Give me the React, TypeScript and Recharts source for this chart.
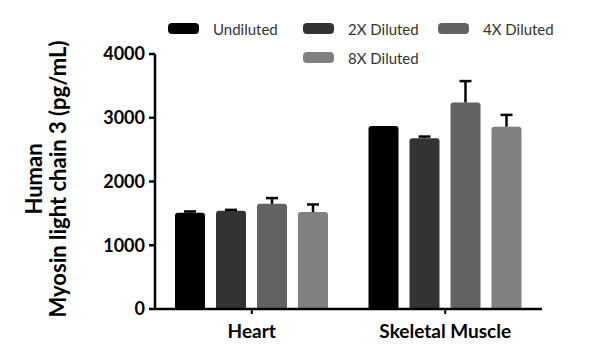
import { BarChart, Bar, XAxis, YAxis, Rectangle } from "recharts";

const CATEGORIES = ["Heart", "Skeletal Muscle"];
const SERIES = ["Undiluted", "2X Diluted", "4X Diluted", "8X Diluted"];
const COLORS = ["#000000", "#333333", "#636363", "#808080"];

// means and SD (upper error only), one entry per category
const UNDILUTED = [1510, 2870];
const UNDILUTED_ERR = [20, 0];
const DIL_2X = [1540, 2680];
const DIL_2X_ERR = [15, 25];
const DIL_4X = [1650, 3240];
const DIL_4X_ERR = [90, 335];
const DIL_8X = [1520, 2860];
const DIL_8X_ERR = [120, 185];

const Y_TICKS = [0, 1000, 2000, 3000, 4000];

const VALUES = [UNDILUTED, DIL_2X, DIL_4X, DIL_8X];
const ERRORS = [UNDILUTED_ERR, DIL_2X_ERR, DIL_4X_ERR, DIL_8X_ERR];

const data = CATEGORIES.map((name, i) => {
  const row: Record<string, string | number> = { name };
  SERIES.forEach((s, k) => {
    row[`v${k}`] = VALUES[k][i];
    row[`e${k}`] = ERRORS[k][i];
  });
  return row;
});

const FONT = "Lato, 'DejaVu Sans', sans-serif";

// bar with a one-sided (upward) error bar, scaled from the bar's own pixel height
function makeShape(k: number) {
  return (props: any) => {
    const { x, y, width, height, fill, payload } = props;
    const value = payload[`v${k}`];
    const err = payload[`e${k}`];
    const errPx = value ? (err * height) / value : 0;
    const cx = x + width / 2;
    return (
      <g>
        <Rectangle x={x} y={y} width={width} height={height} fill={fill} radius={[3, 3, 0, 0]} />
        {errPx > 0.5 && (
          <g stroke="#000" strokeWidth={2.5}>
            <line x1={cx} x2={cx} y1={y} y2={y - errPx} />
            <line x1={cx - 6} x2={cx + 6} y1={y - errPx} y2={y - errPx} />
          </g>
        )}
      </g>
    );
  };
}

function YTitle() {
  const cy = 179;
  return (
    <g fontFamily={FONT} fontWeight={700} fontSize={22} fill="#000">
      <text x={42} y={cy} textAnchor="middle" transform={`rotate(-90 42 ${cy})`}>
        Human
      </text>
      <text x={66} y={cy} textAnchor="middle" transform={`rotate(-90 66 ${cy})`}>
        Myosin light chain 3 (pg/mL)
      </text>
    </g>
  );
}

function LegendBox() {
  return (
    <div
      style={{
        position: "absolute",
        left: 168,
        top: 14,
        width: 405,
        display: "flex",
        flexWrap: "wrap",
        justifyContent: "center",
        fontFamily: FONT,
        fontSize: 15,
        color: "#333",
      }}
    >
      {SERIES.map((s, k) => (
        <div key={s} style={{ width: 135, height: 29, display: "flex", alignItems: "center" }}>
          <div
            style={{
              width: 31,
              height: 11,
              borderRadius: 4,
              background: COLORS[k],
              marginRight: 14,
            }}
          />
          <span>{s}</span>
        </div>
      ))}
    </div>
  );
}

export default function App() {
  return (
    <div style={{ position: "absolute", left: 0, top: 0, width: 600, height: 364, background: "#fff" }}>
      <BarChart
        width={600}
        height={364}
        data={data}
        margin={{ top: 54, right: 58, left: 0, bottom: 25 }}
        barSize={30}
        barGap={11}
      >
        <XAxis
          dataKey="name"
          height={30}
          axisLine={{ stroke: "#000", strokeWidth: 2.5 }}
          tickLine={{ stroke: "#000", strokeWidth: 2 }}
          tickSize={5}
          tickMargin={11}
          tick={{ fill: "#000", fontSize: 19, fontWeight: 700, fontFamily: FONT }}
        />
        <YAxis
          width={155}
          domain={[0, 4000]}
          ticks={Y_TICKS}
          interval={0}
          axisLine={{ stroke: "#000", strokeWidth: 2.5 }}
          tickLine={{ stroke: "#000", strokeWidth: 2.5 }}
          tickSize={6}
          tickMargin={4}
          tick={{ fill: "#000", fontSize: 18, fontWeight: 700, fontFamily: FONT }}
          label={{ content: () => <YTitle /> }}
        />
        {SERIES.map((s, k) => (
          <Bar
            key={s}
            dataKey={`v${k}`}
            name={s}
            fill={COLORS[k]}
            shape={makeShape(k)}
            isAnimationActive={false}
          />
        ))}
      </BarChart>
      <LegendBox />
    </div>
  );
}
